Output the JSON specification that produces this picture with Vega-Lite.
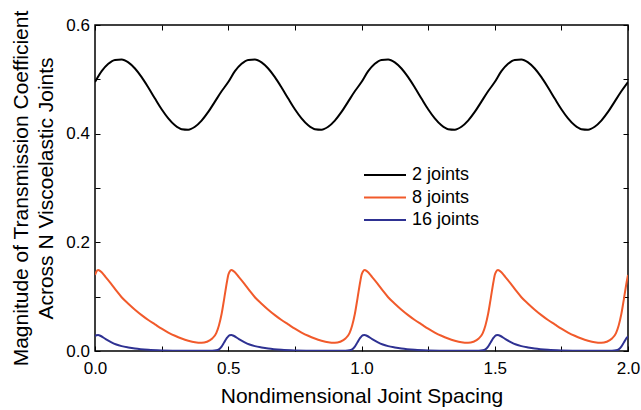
{
  "$schema": "https://vega.github.io/schema/vega-lite/v6.json",
  "width": 533,
  "height": 326,
  "autosize": {"type": "none"},
  "padding": {"left": 95, "top": 25, "right": 13, "bottom": 59},
  "background": "white",
  "config": {
    "view": {"stroke": "black", "strokeWidth": 1.5},
    "font": "Liberation Sans",
    "axis": {
      "domain": false,
      "grid": false,
      "tickColor": "black",
      "tickSize": -5,
      "tickWidth": 1,
      "labelFont": "Liberation Sans",
      "labelFontSize": 17,
      "labelColor": "black",
      "titleFont": "Liberation Sans",
      "titleFontSize": 21,
      "titleFontWeight": "normal",
      "titleColor": "black"
    },
    "legend": {
      "labelFont": "Liberation Sans"
    }
  },
  "data": {
    "values": [
      {"x": 0, "y": 0.495, "joints": "2 joints"},
      {"x": 0.025, "y": 0.515, "joints": "2 joints"},
      {"x": 0.05, "y": 0.5286, "joints": "2 joints"},
      {"x": 0.075, "y": 0.5357, "joints": "2 joints"},
      {"x": 0.1, "y": 0.5366, "joints": "2 joints"},
      {"x": 0.125, "y": 0.5312, "joints": "2 joints"},
      {"x": 0.15, "y": 0.5199, "joints": "2 joints"},
      {"x": 0.175, "y": 0.504, "joints": "2 joints"},
      {"x": 0.2, "y": 0.485, "joints": "2 joints"},
      {"x": 0.225, "y": 0.4647, "joints": "2 joints"},
      {"x": 0.25, "y": 0.445, "joints": "2 joints"},
      {"x": 0.275, "y": 0.4282, "joints": "2 joints"},
      {"x": 0.3, "y": 0.4154, "joints": "2 joints"},
      {"x": 0.325, "y": 0.4083, "joints": "2 joints"},
      {"x": 0.35, "y": 0.4074, "joints": "2 joints"},
      {"x": 0.375, "y": 0.4128, "joints": "2 joints"},
      {"x": 0.4, "y": 0.4241, "joints": "2 joints"},
      {"x": 0.425, "y": 0.44, "joints": "2 joints"},
      {"x": 0.45, "y": 0.459, "joints": "2 joints"},
      {"x": 0.475, "y": 0.478, "joints": "2 joints"},
      {"x": 0.5, "y": 0.495, "joints": "2 joints"},
      {"x": 0.525, "y": 0.515, "joints": "2 joints"},
      {"x": 0.55, "y": 0.5286, "joints": "2 joints"},
      {"x": 0.575, "y": 0.5357, "joints": "2 joints"},
      {"x": 0.6, "y": 0.5366, "joints": "2 joints"},
      {"x": 0.625, "y": 0.5312, "joints": "2 joints"},
      {"x": 0.65, "y": 0.5199, "joints": "2 joints"},
      {"x": 0.675, "y": 0.504, "joints": "2 joints"},
      {"x": 0.7, "y": 0.485, "joints": "2 joints"},
      {"x": 0.725, "y": 0.4647, "joints": "2 joints"},
      {"x": 0.75, "y": 0.445, "joints": "2 joints"},
      {"x": 0.775, "y": 0.4282, "joints": "2 joints"},
      {"x": 0.8, "y": 0.4154, "joints": "2 joints"},
      {"x": 0.825, "y": 0.4083, "joints": "2 joints"},
      {"x": 0.85, "y": 0.4074, "joints": "2 joints"},
      {"x": 0.875, "y": 0.4128, "joints": "2 joints"},
      {"x": 0.9, "y": 0.4241, "joints": "2 joints"},
      {"x": 0.925, "y": 0.44, "joints": "2 joints"},
      {"x": 0.95, "y": 0.459, "joints": "2 joints"},
      {"x": 0.975, "y": 0.478, "joints": "2 joints"},
      {"x": 1.0, "y": 0.495, "joints": "2 joints"},
      {"x": 1.025, "y": 0.515, "joints": "2 joints"},
      {"x": 1.05, "y": 0.5286, "joints": "2 joints"},
      {"x": 1.075, "y": 0.5357, "joints": "2 joints"},
      {"x": 1.1, "y": 0.5366, "joints": "2 joints"},
      {"x": 1.125, "y": 0.5312, "joints": "2 joints"},
      {"x": 1.15, "y": 0.5199, "joints": "2 joints"},
      {"x": 1.175, "y": 0.504, "joints": "2 joints"},
      {"x": 1.2, "y": 0.485, "joints": "2 joints"},
      {"x": 1.225, "y": 0.4647, "joints": "2 joints"},
      {"x": 1.25, "y": 0.445, "joints": "2 joints"},
      {"x": 1.275, "y": 0.4282, "joints": "2 joints"},
      {"x": 1.3, "y": 0.4154, "joints": "2 joints"},
      {"x": 1.325, "y": 0.4083, "joints": "2 joints"},
      {"x": 1.35, "y": 0.4074, "joints": "2 joints"},
      {"x": 1.375, "y": 0.4128, "joints": "2 joints"},
      {"x": 1.4, "y": 0.4241, "joints": "2 joints"},
      {"x": 1.425, "y": 0.44, "joints": "2 joints"},
      {"x": 1.45, "y": 0.459, "joints": "2 joints"},
      {"x": 1.475, "y": 0.478, "joints": "2 joints"},
      {"x": 1.5, "y": 0.495, "joints": "2 joints"},
      {"x": 1.525, "y": 0.515, "joints": "2 joints"},
      {"x": 1.55, "y": 0.5286, "joints": "2 joints"},
      {"x": 1.575, "y": 0.5357, "joints": "2 joints"},
      {"x": 1.6, "y": 0.5366, "joints": "2 joints"},
      {"x": 1.625, "y": 0.5312, "joints": "2 joints"},
      {"x": 1.65, "y": 0.5199, "joints": "2 joints"},
      {"x": 1.675, "y": 0.504, "joints": "2 joints"},
      {"x": 1.7, "y": 0.485, "joints": "2 joints"},
      {"x": 1.725, "y": 0.4647, "joints": "2 joints"},
      {"x": 1.75, "y": 0.445, "joints": "2 joints"},
      {"x": 1.775, "y": 0.4282, "joints": "2 joints"},
      {"x": 1.8, "y": 0.4154, "joints": "2 joints"},
      {"x": 1.825, "y": 0.4083, "joints": "2 joints"},
      {"x": 1.85, "y": 0.4074, "joints": "2 joints"},
      {"x": 1.875, "y": 0.4128, "joints": "2 joints"},
      {"x": 1.9, "y": 0.4241, "joints": "2 joints"},
      {"x": 1.925, "y": 0.44, "joints": "2 joints"},
      {"x": 1.95, "y": 0.459, "joints": "2 joints"},
      {"x": 1.975, "y": 0.478, "joints": "2 joints"},
      {"x": 2.0, "y": 0.495, "joints": "2 joints"},

      {"x": 0, "y": 0.14, "joints": "8 joints"},
      {"x": 0.005, "y": 0.146, "joints": "8 joints"},
      {"x": 0.012, "y": 0.149, "joints": "8 joints"},
      {"x": 0.02, "y": 0.147, "joints": "8 joints"},
      {"x": 0.04, "y": 0.136, "joints": "8 joints"},
      {"x": 0.06, "y": 0.124, "joints": "8 joints"},
      {"x": 0.08, "y": 0.111, "joints": "8 joints"},
      {"x": 0.1, "y": 0.099, "joints": "8 joints"},
      {"x": 0.125, "y": 0.087, "joints": "8 joints"},
      {"x": 0.15, "y": 0.076, "joints": "8 joints"},
      {"x": 0.175, "y": 0.066, "joints": "8 joints"},
      {"x": 0.2, "y": 0.057, "joints": "8 joints"},
      {"x": 0.225, "y": 0.049, "joints": "8 joints"},
      {"x": 0.25, "y": 0.041, "joints": "8 joints"},
      {"x": 0.275, "y": 0.034, "joints": "8 joints"},
      {"x": 0.3, "y": 0.028, "joints": "8 joints"},
      {"x": 0.325, "y": 0.023, "joints": "8 joints"},
      {"x": 0.35, "y": 0.019, "joints": "8 joints"},
      {"x": 0.375, "y": 0.016, "joints": "8 joints"},
      {"x": 0.4, "y": 0.015, "joints": "8 joints"},
      {"x": 0.42, "y": 0.017, "joints": "8 joints"},
      {"x": 0.44, "y": 0.023, "joints": "8 joints"},
      {"x": 0.455, "y": 0.033, "joints": "8 joints"},
      {"x": 0.465, "y": 0.047, "joints": "8 joints"},
      {"x": 0.475, "y": 0.068, "joints": "8 joints"},
      {"x": 0.485, "y": 0.097, "joints": "8 joints"},
      {"x": 0.495, "y": 0.127, "joints": "8 joints"},
      {"x": 0.5, "y": 0.14, "joints": "8 joints"},
      {"x": 0.505, "y": 0.146, "joints": "8 joints"},
      {"x": 0.512, "y": 0.149, "joints": "8 joints"},
      {"x": 0.52, "y": 0.147, "joints": "8 joints"},
      {"x": 0.54, "y": 0.136, "joints": "8 joints"},
      {"x": 0.56, "y": 0.124, "joints": "8 joints"},
      {"x": 0.58, "y": 0.111, "joints": "8 joints"},
      {"x": 0.6, "y": 0.099, "joints": "8 joints"},
      {"x": 0.625, "y": 0.087, "joints": "8 joints"},
      {"x": 0.65, "y": 0.076, "joints": "8 joints"},
      {"x": 0.675, "y": 0.066, "joints": "8 joints"},
      {"x": 0.7, "y": 0.057, "joints": "8 joints"},
      {"x": 0.725, "y": 0.049, "joints": "8 joints"},
      {"x": 0.75, "y": 0.041, "joints": "8 joints"},
      {"x": 0.775, "y": 0.034, "joints": "8 joints"},
      {"x": 0.8, "y": 0.028, "joints": "8 joints"},
      {"x": 0.825, "y": 0.023, "joints": "8 joints"},
      {"x": 0.85, "y": 0.019, "joints": "8 joints"},
      {"x": 0.875, "y": 0.016, "joints": "8 joints"},
      {"x": 0.9, "y": 0.015, "joints": "8 joints"},
      {"x": 0.92, "y": 0.017, "joints": "8 joints"},
      {"x": 0.94, "y": 0.023, "joints": "8 joints"},
      {"x": 0.955, "y": 0.033, "joints": "8 joints"},
      {"x": 0.965, "y": 0.047, "joints": "8 joints"},
      {"x": 0.975, "y": 0.068, "joints": "8 joints"},
      {"x": 0.985, "y": 0.097, "joints": "8 joints"},
      {"x": 0.995, "y": 0.127, "joints": "8 joints"},
      {"x": 1.0, "y": 0.14, "joints": "8 joints"},
      {"x": 1.005, "y": 0.146, "joints": "8 joints"},
      {"x": 1.012, "y": 0.149, "joints": "8 joints"},
      {"x": 1.02, "y": 0.147, "joints": "8 joints"},
      {"x": 1.04, "y": 0.136, "joints": "8 joints"},
      {"x": 1.06, "y": 0.124, "joints": "8 joints"},
      {"x": 1.08, "y": 0.111, "joints": "8 joints"},
      {"x": 1.1, "y": 0.099, "joints": "8 joints"},
      {"x": 1.125, "y": 0.087, "joints": "8 joints"},
      {"x": 1.15, "y": 0.076, "joints": "8 joints"},
      {"x": 1.175, "y": 0.066, "joints": "8 joints"},
      {"x": 1.2, "y": 0.057, "joints": "8 joints"},
      {"x": 1.225, "y": 0.049, "joints": "8 joints"},
      {"x": 1.25, "y": 0.041, "joints": "8 joints"},
      {"x": 1.275, "y": 0.034, "joints": "8 joints"},
      {"x": 1.3, "y": 0.028, "joints": "8 joints"},
      {"x": 1.325, "y": 0.023, "joints": "8 joints"},
      {"x": 1.35, "y": 0.019, "joints": "8 joints"},
      {"x": 1.375, "y": 0.016, "joints": "8 joints"},
      {"x": 1.4, "y": 0.015, "joints": "8 joints"},
      {"x": 1.42, "y": 0.017, "joints": "8 joints"},
      {"x": 1.44, "y": 0.023, "joints": "8 joints"},
      {"x": 1.455, "y": 0.033, "joints": "8 joints"},
      {"x": 1.465, "y": 0.047, "joints": "8 joints"},
      {"x": 1.475, "y": 0.068, "joints": "8 joints"},
      {"x": 1.485, "y": 0.097, "joints": "8 joints"},
      {"x": 1.495, "y": 0.127, "joints": "8 joints"},
      {"x": 1.5, "y": 0.14, "joints": "8 joints"},
      {"x": 1.505, "y": 0.146, "joints": "8 joints"},
      {"x": 1.512, "y": 0.149, "joints": "8 joints"},
      {"x": 1.52, "y": 0.147, "joints": "8 joints"},
      {"x": 1.54, "y": 0.136, "joints": "8 joints"},
      {"x": 1.56, "y": 0.124, "joints": "8 joints"},
      {"x": 1.58, "y": 0.111, "joints": "8 joints"},
      {"x": 1.6, "y": 0.099, "joints": "8 joints"},
      {"x": 1.625, "y": 0.087, "joints": "8 joints"},
      {"x": 1.65, "y": 0.076, "joints": "8 joints"},
      {"x": 1.675, "y": 0.066, "joints": "8 joints"},
      {"x": 1.7, "y": 0.057, "joints": "8 joints"},
      {"x": 1.725, "y": 0.049, "joints": "8 joints"},
      {"x": 1.75, "y": 0.041, "joints": "8 joints"},
      {"x": 1.775, "y": 0.034, "joints": "8 joints"},
      {"x": 1.8, "y": 0.028, "joints": "8 joints"},
      {"x": 1.825, "y": 0.023, "joints": "8 joints"},
      {"x": 1.85, "y": 0.019, "joints": "8 joints"},
      {"x": 1.875, "y": 0.016, "joints": "8 joints"},
      {"x": 1.9, "y": 0.015, "joints": "8 joints"},
      {"x": 1.92, "y": 0.017, "joints": "8 joints"},
      {"x": 1.94, "y": 0.023, "joints": "8 joints"},
      {"x": 1.955, "y": 0.033, "joints": "8 joints"},
      {"x": 1.965, "y": 0.047, "joints": "8 joints"},
      {"x": 1.975, "y": 0.068, "joints": "8 joints"},
      {"x": 1.985, "y": 0.097, "joints": "8 joints"},
      {"x": 1.995, "y": 0.127, "joints": "8 joints"},
      {"x": 2.0, "y": 0.14, "joints": "8 joints"},

      {"x": 0, "y": 0.027, "joints": "16 joints"},
      {"x": 0.005, "y": 0.029, "joints": "16 joints"},
      {"x": 0.012, "y": 0.0295, "joints": "16 joints"},
      {"x": 0.02, "y": 0.028, "joints": "16 joints"},
      {"x": 0.04, "y": 0.022, "joints": "16 joints"},
      {"x": 0.06, "y": 0.0165, "joints": "16 joints"},
      {"x": 0.08, "y": 0.012, "joints": "16 joints"},
      {"x": 0.1, "y": 0.009, "joints": "16 joints"},
      {"x": 0.125, "y": 0.0065, "joints": "16 joints"},
      {"x": 0.15, "y": 0.0045, "joints": "16 joints"},
      {"x": 0.2, "y": 0.0022, "joints": "16 joints"},
      {"x": 0.25, "y": 0.0011, "joints": "16 joints"},
      {"x": 0.3, "y": 0.0006, "joints": "16 joints"},
      {"x": 0.35, "y": 0.0003, "joints": "16 joints"},
      {"x": 0.4, "y": 0.0003, "joints": "16 joints"},
      {"x": 0.44, "y": 0.0006, "joints": "16 joints"},
      {"x": 0.455, "y": 0.0012, "joints": "16 joints"},
      {"x": 0.465, "y": 0.003, "joints": "16 joints"},
      {"x": 0.475, "y": 0.008, "joints": "16 joints"},
      {"x": 0.485, "y": 0.016, "joints": "16 joints"},
      {"x": 0.495, "y": 0.024, "joints": "16 joints"},
      {"x": 0.5, "y": 0.027, "joints": "16 joints"},
      {"x": 0.505, "y": 0.029, "joints": "16 joints"},
      {"x": 0.512, "y": 0.0295, "joints": "16 joints"},
      {"x": 0.52, "y": 0.028, "joints": "16 joints"},
      {"x": 0.54, "y": 0.022, "joints": "16 joints"},
      {"x": 0.56, "y": 0.0165, "joints": "16 joints"},
      {"x": 0.58, "y": 0.012, "joints": "16 joints"},
      {"x": 0.6, "y": 0.009, "joints": "16 joints"},
      {"x": 0.625, "y": 0.0065, "joints": "16 joints"},
      {"x": 0.65, "y": 0.0045, "joints": "16 joints"},
      {"x": 0.7, "y": 0.0022, "joints": "16 joints"},
      {"x": 0.75, "y": 0.0011, "joints": "16 joints"},
      {"x": 0.8, "y": 0.0006, "joints": "16 joints"},
      {"x": 0.85, "y": 0.0003, "joints": "16 joints"},
      {"x": 0.9, "y": 0.0003, "joints": "16 joints"},
      {"x": 0.94, "y": 0.0006, "joints": "16 joints"},
      {"x": 0.955, "y": 0.0012, "joints": "16 joints"},
      {"x": 0.965, "y": 0.003, "joints": "16 joints"},
      {"x": 0.975, "y": 0.008, "joints": "16 joints"},
      {"x": 0.985, "y": 0.016, "joints": "16 joints"},
      {"x": 0.995, "y": 0.024, "joints": "16 joints"},
      {"x": 1.0, "y": 0.027, "joints": "16 joints"},
      {"x": 1.005, "y": 0.029, "joints": "16 joints"},
      {"x": 1.012, "y": 0.0295, "joints": "16 joints"},
      {"x": 1.02, "y": 0.028, "joints": "16 joints"},
      {"x": 1.04, "y": 0.022, "joints": "16 joints"},
      {"x": 1.06, "y": 0.0165, "joints": "16 joints"},
      {"x": 1.08, "y": 0.012, "joints": "16 joints"},
      {"x": 1.1, "y": 0.009, "joints": "16 joints"},
      {"x": 1.125, "y": 0.0065, "joints": "16 joints"},
      {"x": 1.15, "y": 0.0045, "joints": "16 joints"},
      {"x": 1.2, "y": 0.0022, "joints": "16 joints"},
      {"x": 1.25, "y": 0.0011, "joints": "16 joints"},
      {"x": 1.3, "y": 0.0006, "joints": "16 joints"},
      {"x": 1.35, "y": 0.0003, "joints": "16 joints"},
      {"x": 1.4, "y": 0.0003, "joints": "16 joints"},
      {"x": 1.44, "y": 0.0006, "joints": "16 joints"},
      {"x": 1.455, "y": 0.0012, "joints": "16 joints"},
      {"x": 1.465, "y": 0.003, "joints": "16 joints"},
      {"x": 1.475, "y": 0.008, "joints": "16 joints"},
      {"x": 1.485, "y": 0.016, "joints": "16 joints"},
      {"x": 1.495, "y": 0.024, "joints": "16 joints"},
      {"x": 1.5, "y": 0.027, "joints": "16 joints"},
      {"x": 1.505, "y": 0.029, "joints": "16 joints"},
      {"x": 1.512, "y": 0.0295, "joints": "16 joints"},
      {"x": 1.52, "y": 0.028, "joints": "16 joints"},
      {"x": 1.54, "y": 0.022, "joints": "16 joints"},
      {"x": 1.56, "y": 0.0165, "joints": "16 joints"},
      {"x": 1.58, "y": 0.012, "joints": "16 joints"},
      {"x": 1.6, "y": 0.009, "joints": "16 joints"},
      {"x": 1.625, "y": 0.0065, "joints": "16 joints"},
      {"x": 1.65, "y": 0.0045, "joints": "16 joints"},
      {"x": 1.7, "y": 0.0022, "joints": "16 joints"},
      {"x": 1.75, "y": 0.0011, "joints": "16 joints"},
      {"x": 1.8, "y": 0.0006, "joints": "16 joints"},
      {"x": 1.85, "y": 0.0003, "joints": "16 joints"},
      {"x": 1.9, "y": 0.0003, "joints": "16 joints"},
      {"x": 1.94, "y": 0.0006, "joints": "16 joints"},
      {"x": 1.955, "y": 0.0012, "joints": "16 joints"},
      {"x": 1.965, "y": 0.003, "joints": "16 joints"},
      {"x": 1.975, "y": 0.008, "joints": "16 joints"},
      {"x": 1.985, "y": 0.016, "joints": "16 joints"},
      {"x": 1.995, "y": 0.024, "joints": "16 joints"},
      {"x": 2.0, "y": 0.027, "joints": "16 joints"}
    ]
  },
  "layer": [
    {
      "mark": {"type": "line", "strokeWidth": 2, "interpolate": "monotone", "clip": true},
      "encoding": {
        "x": {
          "field": "x", "type": "quantitative",
          "scale": {"domain": [0, 2], "nice": false, "zero": false},
          "axis": {
            "orient": "bottom",
            "values": [0, 0.25, 0.5, 0.75, 1, 1.25, 1.5, 1.75, 2],
            "labelExpr": "datum.value % 0.5 === 0 ? format(datum.value, '.1f') : ''",
            "labelPadding": 14.5,
            "labelFlush": false,
            "labelOverlap": false,
            "title": "Nondimensional Joint Spacing",
            "titleY": 51,
            "titleBaseline": "alphabetic"
          }
        },
        "y": {
          "field": "y", "type": "quantitative",
          "scale": {"domain": [0, 0.6], "nice": false, "zero": false},
          "axis": {
            "orient": "left",
            "values": [0, 0.1, 0.2, 0.3, 0.4, 0.5, 0.6],
            "labelExpr": "round(datum.value * 10) % 2 === 0 ? format(datum.value, '.1f') : ''",
            "labelPadding": 10.5,
            "labelFlush": false,
            "labelOverlap": false,
            "title": ["Magnitude of Transmission Coefficient", "Across N Viscoelastic Joints"],
            "titleAngle": 270,
            "titleX": -68,
            "titleY": 163,
            "titleAlign": "center",
            "titleBaseline": "alphabetic",
            "titleLineHeight": 25.6
          }
        },
        "color": {
          "field": "joints", "type": "nominal",
          "scale": {"domain": ["2 joints", "8 joints", "16 joints"], "range": ["#000000", "#f15a2b", "#2e3192"]},
          "legend": {
            "title": null,
            "orient": "none",
            "legendX": 281,
            "legendY": 141,
            "padding": 0,
            "symbolType": "M-3,0H3",
            "symbolSize": 196,
            "symbolStrokeWidth": 2,
            "labelFontSize": 18,
            "labelColor": "black",
            "labelOffset": 18,
            "rowPadding": 4.5
          }
        }
      }
    },
    {
      "mark": {"type": "point", "opacity": 0},
      "encoding": {
        "x": {
          "field": "x", "type": "quantitative",
          "axis": {
            "orient": "top",
            "values": [0, 0.25, 0.5, 0.75, 1, 1.25, 1.5, 1.75, 2],
            "labels": false,
            "title": null
          }
        },
        "y": {
          "field": "y", "type": "quantitative",
          "axis": {
            "orient": "right",
            "values": [0, 0.1, 0.2, 0.3, 0.4, 0.5, 0.6],
            "labels": false,
            "title": null
          }
        }
      }
    }
  ],
  "resolve": {"axis": {"x": "independent", "y": "independent"}}
}
